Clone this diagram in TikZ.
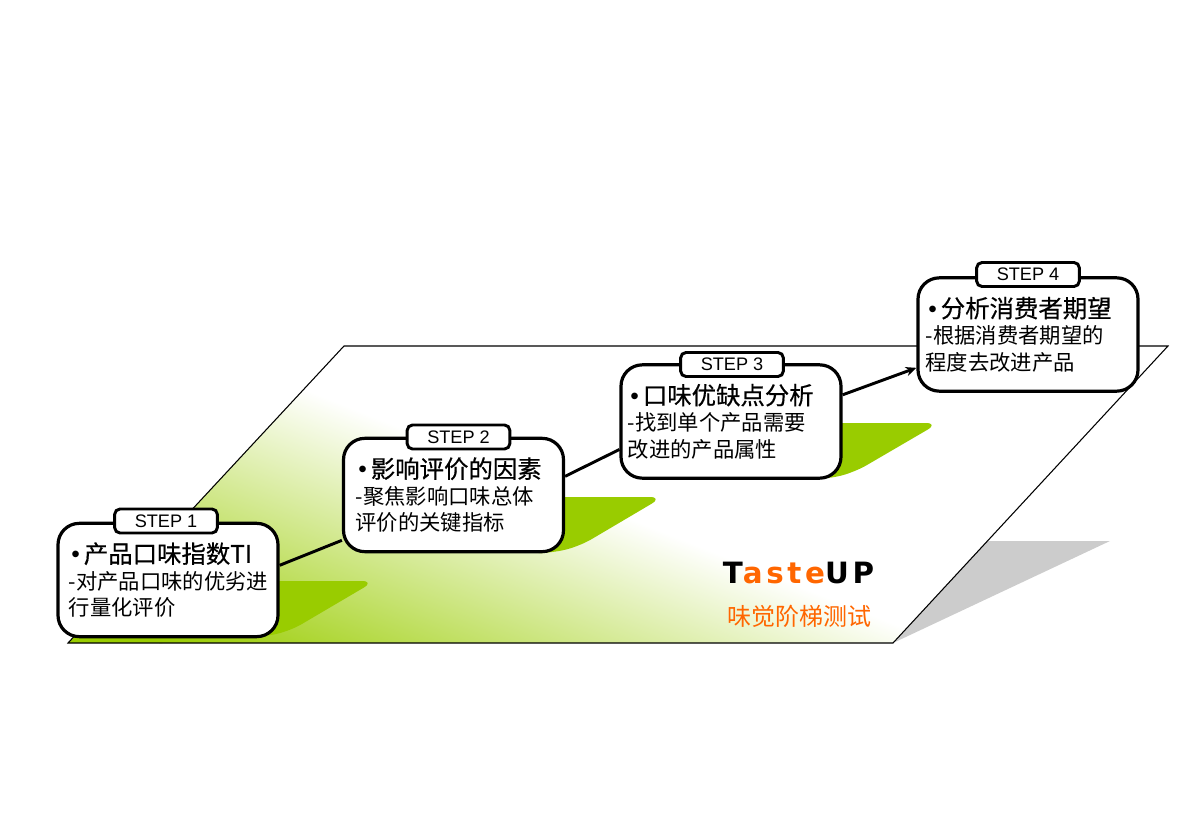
\documentclass[tikz,border=0pt]{standalone}
\usepackage{fontspec}
\setmainfont{Liberation Sans}
\newfontfamily\cjk{Noto Sans CJK SC}
\newfontfamily\cjkhead[FakeBold=0.5]{Noto Sans CJK SC}
\newfontfamily\logofont[LetterSpace=12.4]{DejaVu Sans Bold}
\usetikzlibrary{arrows.meta}
\definecolor{tabgreen}{HTML}{99CC00}
\definecolor{logoorange}{HTML}{FF6600}
\definecolor{shadowgray}{HTML}{CCCCCC}
\tikzset{
  stepbox/.style={draw=black,line width=2.4pt,fill=white,rounded corners=16pt,
    minimum width=165pt,minimum height=85pt,inner sep=0pt,text width=158pt,align=left,
    font=\cjk\fontsize{16}{19.8}\selectfont},
  steptag/.style={draw=black,line width=2.2pt,fill=white,rounded corners=4pt,
    minimum width=77pt,minimum height=18pt,inner sep=0pt,font=\fontsize{13.6}{15}\selectfont},
  tabshape/.style={fill=tabgreen,rounded corners=10pt},
  linkline/.style={line width=2.2pt,draw=black}
}
\newcommand{\steptext}[4]{\hspace*{#1}\hspace*{2pt}{\fontsize{18.3}{19.8}\selectfont{\rmfamily\textbullet}\hspace{3pt}\cjkhead #2}\\\hspace*{#1}#3\\\hspace*{#1}#4}
\begin{document}
\begin{tikzpicture}[x=0.75pt,y=-0.75pt]
  \useasboundingbox (0,0) rectangle (1200,831);
  % shadow
  \fill[shadowgray] (893,643) -- (987,541) -- (1110,541) -- cycle;
  % floor
  \begin{scope}
    \clip (68,643) -- (893,643) -- (1168,346) -- (344,346) -- cycle;
    \begin{scope}[transform canvas={shift={(506,625)},rotate=-21.7}]
      \fill[tabgreen] (-1000,144) rectangle (1000,300);
      \shade[top color=white,bottom color=tabgreen] (-1000,-145) rectangle (1000,145);
    \end{scope}
  \end{scope}
  \draw[line width=0.8pt] (68,643) -- (893,643) -- (1168,346) -- (344,346) -- cycle;
  % green tabs
  \fill[tabshape] (240,581) -- (375,581) -- (290,631) -- (262,637) -- (240,637) -- cycle;
  \fill[tabshape] (530,497) -- (663,497) -- (580,546) -- (552,553) -- (530,553) -- cycle;
  \fill[tabshape] (805,423) -- (939,423) -- (855,472) -- (828,479) -- (805,479) -- cycle;
  % step boxes
  \node[stepbox] (box1) at (168,580) {\steptext{4.5pt}{产品口味指数TI}{-对产品口味的优劣进}{行量化评价}};
  \node[stepbox] (box2) at (453.5,495) {\steptext{5.6pt}{影响评价的因素}{-聚焦影响口味总体}{评价的关键指标}};
  \node[stepbox] (box3) at (731,421.5) {\steptext{1.5pt}{口味优缺点分析}{-找到单个产品需要}{改进的产品属性}};
  \node[stepbox] (box4) at (1028,334.5) {\steptext{2.2pt}{分析消费者期望}{-根据消费者期望的}{程度去改进产品}};
  % links
  \draw[linkline] ([yshift=11pt]box1.east) -- ([yshift=-34pt]box2.west);
  \draw[linkline] ([yshift=14pt]box2.east) -- ([yshift=-21pt]box3.west);
  \draw[linkline,-{Stealth[length=8pt,width=7pt]}] ([yshift=20pt]box3.east) -- ([yshift=-25pt]box4.west);
  % step tags
  \node[steptag] (tag1) at (166,521) {STEP 1};
  \node[steptag] (tag2) at (458.5,437) {STEP 2};
  \node[steptag] (tag3) at (732,364.5) {STEP 3};
  \node[steptag] (tag4) at (1028,274.5) {STEP 4};
  % logo
  \node[inner sep=0pt,font=\logofont\fontsize{22}{24}\selectfont] (logo) at (798.5,573)
    {T\textcolor{logoorange}{aste}UP};
  \node[inner sep=0pt,text=logoorange,font=\cjk\fontsize{18}{20}\selectfont] (subtitle) at (799,616) {味觉阶梯测试};
\end{tikzpicture}
\end{document}
